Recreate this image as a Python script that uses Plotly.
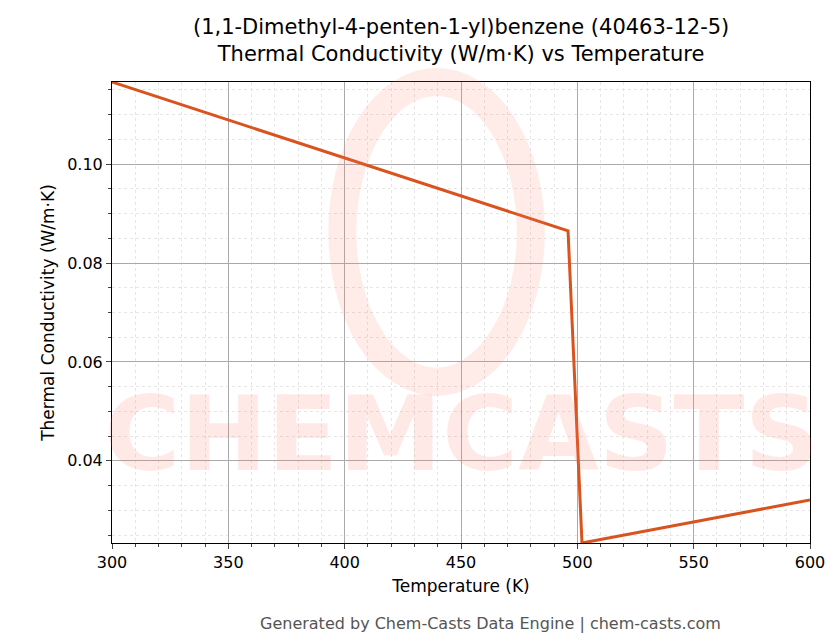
import plotly.graph_objects as go

# data
temperature = [300, 496, 502, 600]
conductivity = [0.1166, 0.0865, 0.0234, 0.0321]

x_ticks = [300, 350, 400, 450, 500, 550, 600]
y_ticks = [0.04, 0.06, 0.08, 0.10]

fig = go.Figure()
fig.add_trace(go.Scatter(
    x=temperature, y=conductivity, mode="lines",
    line=dict(color="#d9531e", width=3), showlegend=False,
))

# watermark
fig.add_annotation(
    text="<b>CHEMCASTS</b>", xref="paper", yref="paper", x=0.5, y=0.1,
    showarrow=False, font=dict(size=104, color="rgba(255,120,100,0.16)", family="DejaVu Sans"),
)
fig.add_shape(
    type="circle", xref="paper", yref="paper", x0=0.33, x1=0.6, y0=0.35, y1=1.0,
    line=dict(color="rgba(255,120,100,0.15)", width=28),
)

axis_common = dict(
    showline=True, linecolor="black", mirror=True, ticks="outside", ticklen=5,
    showgrid=True, gridcolor="#aaaaaa", gridwidth=0.8, automargin=False,
    tickfont=dict(size=16, color="black"),
    minor=dict(ticks="outside", ticklen=3, showgrid=True, gridcolor="#e6e6e6", griddash="dot"),
    zeroline=False,
)
fig.update_xaxes(range=[300, 600], tickvals=x_ticks, minor_dtick=10,
                 title=dict(text="Temperature (K)", font=dict(size=17), standoff=8), **axis_common)
fig.update_yaxes(range=[0.0234, 0.1166], tickvals=y_ticks, tickformat=".2f", minor_dtick=0.005,
                 title=dict(text="Thermal Conductivity (W/m·K)", font=dict(size=17), standoff=8), **axis_common)

fig.update_layout(
    width=836, height=644,
    margin=dict(l=104, r=34, t=74, b=109),
    plot_bgcolor="white", paper_bgcolor="white",
    font=dict(family="DejaVu Sans", color="black"),
    title=dict(text="(1,1-Dimethyl-4-penten-1-yl)benzene (40463-12-5)<br>Thermal Conductivity (W/m·K) vs Temperature",
               x=0.542, xanchor="center", y=0.96, yanchor="top", font=dict(size=21)),
)
fig.add_annotation(
    text="Generated by Chem-Casts Data Engine | chem-casts.com", xref="paper", yref="paper",
    x=0.542, y=-0.2, xanchor="center", showarrow=False, font=dict(size=16, color="#555555"),
)

fig.write_html("out.html")
